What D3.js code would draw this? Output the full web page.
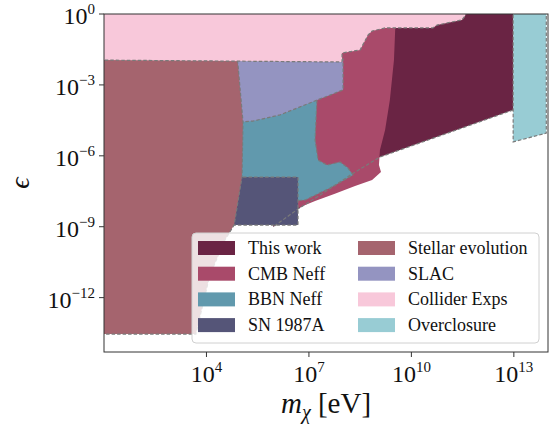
<!DOCTYPE html>
<html>
<head>
<meta charset="utf-8">
<script src="https://cdn.jsdelivr.net/npm/d3@7"></script>
<style>
  body { margin: 0; background: #fff; }
  text { font-family: "Liberation Serif", "DejaVu Serif", serif; fill: #111; }
</style>
</head>
<body>
<div id="chart"></div>
<script>
// region boundaries, as [log10 m (eV), log10 epsilon]
const thisWork = [[5.95,0.2],[12.98,0.2],[12.98,-4.06],[9.08,-6.05],[8.26,-6.77],[7.33,-7.66],[6.68,-8.25],[5.95,-9.01]];
const thisWorkEdge = [[12.98,-4.06],[9.08,-6.05],[8.26,-6.77],[7.33,-7.66],[6.68,-8.25],[5.95,-9.01]];
const cmbNeff = [[6.45,0.2],[9.55,0.2],[9.49,-1.95],[9.37,-3.64],[9.23,-4.91],[9.08,-5.75],[9.05,-6.39],[9.11,-6.68],
  [8.85,-7.02],[8.35,-7.28],[7.76,-7.61],[7.18,-7.91],[6.68,-8.21],[6.45,-8.38]];
const bbnNeff = [[4.98,-4.06],[7.24,-3.47],[7.18,-5.33],[7.27,-6.18],[7.53,-6.39],[7.91,-6.26],[8.14,-6.51],[8.29,-6.81],
  [7.62,-7.36],[6.89,-7.87],[4.98,-8.08]];
const sn1987a = [[4.75,-6.9],[6.68,-6.9],[6.68,-8.93],[4.75,-8.93]];
const slac = [[4.9,-1.9],[8.0,-1.9],[8.0,-3.21],[7.62,-3.43],[7.24,-3.64],[6.74,-3.93],[6.15,-4.27],[5.36,-4.53],[4.98,-4.57]];
const stellar = [[0.9,-1.9],[4.89,-1.9],[4.92,-2.1],[5.07,-4.57],[5.04,-6.90],[4.81,-8.93],[4.54,-9.56],[4.10,-11.04],
  [3.87,-12.44],[3.69,-13.54],[0.9,-13.54]];
const collider = [[0.9,0.2],[0.9,-1.95],[7.97,-2.03],[7.97,-1.65],[8.50,-1.52],[8.73,-0.89],[8.85,-0.72],[9.23,-0.59],
  [10.63,-0.59],[10.75,-0.47],[11.48,-0.25],[11.57,-0.08],[11.66,0.2]];
const overclosure = [[12.98,0.2],[12.98,-5.41],[13.95,-5.04],[13.95,0.2]];

const legendNames = ["This work","CMB Neff","BBN Neff","SN 1987A","Stellar evolution","SLAC","Collider Exps","Overclosure"];
const legendColors = ["#6a2444","#a94a6a","#6199ad","#555578","#a5646e","#9494c1","#f8c8da","#98ccd4"];
const xTicks = [4, 7, 10, 13];
const yTicks = [0, -3, -6, -9, -12];

const width = 554, height = 428;
const pL = 104, pR = 548, pT = 14, pB = 352;

const svg = d3.select("#chart").append("svg").attr("width",width).attr("height",height);
const x = d3.scaleLog().domain([1e1, 1e14]).range([pL, pR]);
const y = d3.scaleLog().domain([Math.pow(10,-14.3), 1]).range([pB, pT]);

svg.append("clipPath").attr("id","plot").append("rect")
  .attr("x",pL).attr("y",pT).attr("width",pR-pL).attr("height",pB-pT);

const line = d3.line().x(d => x(Math.pow(10,d[0]))).y(d => y(Math.pow(10,d[1])));
const area = svg.append("g").attr("clip-path","url(#plot)");

// fills go from back to front, dashed edges with them
const layers = [
  {pts:thisWork, c:legendColors[0], edge:false},
  {pts:cmbNeff, c:legendColors[1], edge:false},
  {pts:bbnNeff, c:legendColors[2], edge:true},
  {pts:sn1987a, c:legendColors[3], edge:true},
  {pts:slac, c:legendColors[5], edge:true},
  {pts:stellar, c:legendColors[4], edge:true},
  {pts:collider, c:legendColors[6], edge:true},
  {pts:overclosure, c:legendColors[7], edge:true}
];
for(let l of layers) {
  let p = area.append("path").attr("d",line(l.pts)+"Z").attr("fill",l.c);
  if(l.edge) p.attr("stroke","#7a7a7a").attr("stroke-width",1.2).attr("stroke-dasharray","3.5,2");
}
area.append("path").attr("d",line(thisWorkEdge)).attr("fill","none")
  .attr("stroke","#7a7a7a").attr("stroke-width",1.2).attr("stroke-dasharray","3.5,2");

// frame
svg.append("rect").attr("x",pL).attr("y",pT).attr("width",pR-pL).attr("height",pB-pT)
  .attr("fill","none").attr("stroke","#333").attr("stroke-width",1);

// ticks
const xt = svg.append("g");
for(let t of xTicks) {
  let px = x(Math.pow(10,t));
  xt.append("line").attr("x1",px).attr("x2",px).attr("y1",pB).attr("y2",pB+5).attr("stroke","#333");
  let tx = xt.append("text").attr("x",px).attr("y",pB+30).attr("text-anchor","middle").attr("font-size",24);
  tx.append("tspan").text("10");
  tx.append("tspan").attr("dy",-10).attr("font-size",15).text(t);
}
const yt = svg.append("g");
for(let t of yTicks) {
  let py = y(Math.pow(10,t));
  yt.append("line").attr("x1",pL-5).attr("x2",pL).attr("y1",py).attr("y2",py).attr("stroke","#333");
  let tx = yt.append("text").attr("x",pL-9).attr("y",py+10).attr("text-anchor","end").attr("font-size",24);
  tx.append("tspan").text("10");
  tx.append("tspan").attr("dy",-10).attr("font-size",15).text(t < 0 ? "\u2212"+(-t) : t);
}

// axis labels
const xl = svg.append("text").attr("x",(pL+pR)/2).attr("y",413).attr("text-anchor","middle").attr("font-size",29);
xl.append("tspan").attr("font-style","italic").text("m");
xl.append("tspan").attr("font-style","italic").attr("font-size",20).attr("dy",6).text("\u03c7");
xl.append("tspan").attr("dy",-6).text(" [eV]");
svg.append("text").attr("transform","translate(29,183) rotate(-90)").attr("text-anchor","middle")
  .attr("font-size",28).attr("font-style","italic").text("\u03f5");

// legend
const lg = svg.append("g");
lg.append("rect").attr("x",192).attr("y",233).attr("width",347).attr("height",110).attr("rx",4)
  .attr("fill","#fff").attr("fill-opacity",0.8).attr("stroke","#d0d0d0");
legendNames.forEach((name, i) => {
  let col = Math.floor(i/4), row = i%4;
  let sx = col === 0 ? 198 : 358;
  let cy = 248 + row*25.7;
  lg.append("rect").attr("x",sx).attr("y",cy-7).attr("width",37).attr("height",14).attr("fill",legendColors[i]);
  lg.append("text").attr("x",sx+50).attr("y",cy+6).attr("font-size",18).text(name);
});
</script>
</body>
</html>
